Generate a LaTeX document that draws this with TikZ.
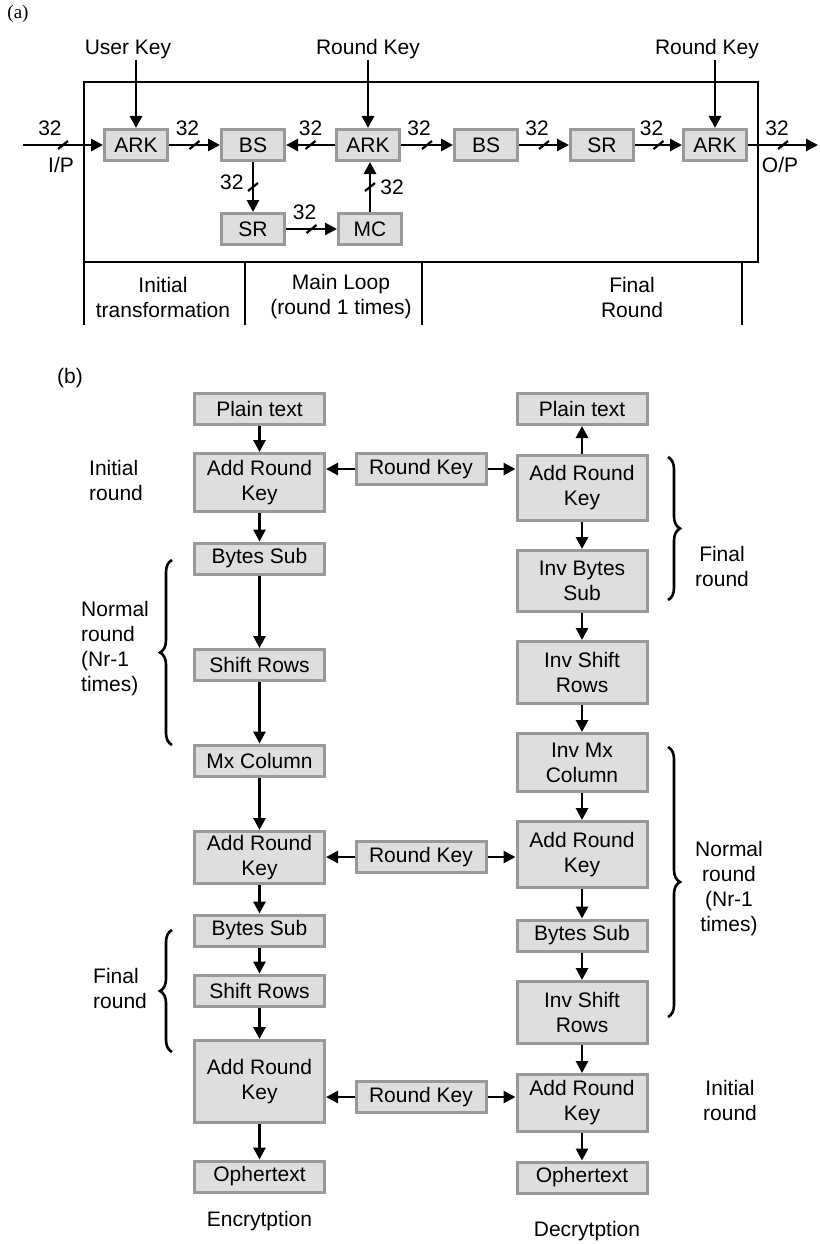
\documentclass[tikz,border=0pt]{standalone}
\usepackage{fontspec}
\setmainfont{Liberation Sans}
\newfontfamily\timesfont{Liberation Serif}
\usetikzlibrary{arrows.meta,positioning,decorations.markings,decorations.pathreplacing}

\begin{document}
\begin{tikzpicture}[x=1pt,y=-1pt]

    \tikzstyle{blk} = [draw=black!40, fill=black!13, line width=3pt,
        align=center, inner sep=2pt, font=\fontsize{21}{25}\selectfont]
    \tikzstyle{sblk} = [blk, minimum width=63pt, minimum height=31pt]
    \tikzstyle{wblk} = [blk, minimum width=130pt, minimum height=31pt]
    \tikzstyle{lbl} = [inner sep=1pt, align=center, font=\fontsize{21}{25}\selectfont]
    \tikzstyle{arr} = [line width=2.8pt, -{Triangle[length=12pt,width=12pt]}]
    \tikzstyle{bus} = [decoration={markings, mark=at position 0.5 with
        {\pgftransformresetnontranslations \draw[-, line width=2.2pt] (-5pt,-4pt) -- (5pt,4pt);}},
        postaction={decorate}]
    \tikzstyle{frm} = [line width=2.8pt]
    \tikzstyle{brc} = [line width=2.6pt, decorate, decoration={brace, amplitude=12pt}]

    \useasboundingbox (0,0) rectangle (819,1244);

    % (a) round structure
    \node [font=\timesfont\fontsize{19}{22}\selectfont] (tagA) at (18,14) {(a)};
    \node [frm, draw, outer sep=0pt, minimum width=674pt, minimum height=180pt] (frame) at (421,172) {};

    \node [sblk] (ark1) at (136,145) {ARK};
    \node [sblk, right of=ark1, node distance=117pt] (bs1) {BS};
    \node [sblk, right of=bs1, node distance=115pt] (ark2) {ARK};
    \node [sblk, below of=bs1, node distance=84pt] (sr1) {SR};
    \node [sblk, right of=sr1, node distance=117pt] (mc) {MC};
    \node [sblk, right of=ark2, node distance=118pt] (bs2) {BS};
    \node [sblk, right of=bs2, node distance=116pt] (sr2) {SR};
    \node [sblk, right of=sr2, node distance=113pt] (ark3) {ARK};

    % keys
    \node [lbl] (ukey) at (128,49) {User Key};
    \node [lbl] (rkey1) at (368,49) {Round Key};
    \node [lbl] (rkey2) at (707,49) {Round Key};
    \draw [arr] (ukey.south -| ark1.north) -- (ark1.north);
    \draw [arr] (rkey1.south -| ark2.north) -- (ark2.north);
    \draw [arr] (rkey2.south -| ark3.north) -- (ark3.north);

    % 32 bit data paths
    \coordinate (inp) at (23,145);
    \coordinate (outp) at (818,145);
    \draw [arr, bus] (inp) -- (ark1.west)
        node [lbl, pos=0.5, above=7pt, xshift=-13pt] {32}
        node [lbl, pos=0.5, below=10pt, xshift=-2pt] {I/P};
    \draw [arr, bus] (ark3.east) -- (outp)
        node [lbl, pos=0.5, above=7pt, xshift=-6pt] {32}
        node [lbl, pos=0.5, below=10pt, xshift=-3pt] {O/P};
    \draw [arr, bus] (ark1) -- (bs1) node [lbl, pos=0.5, above=7pt, xshift=-7pt] {32};
    \draw [arr, bus] (ark2) -- (bs1) node [lbl, pos=0.5, above=7pt] {32};
    \draw [arr, bus] (bs1) -- (sr1) node [lbl, pos=0.5, left=7pt, yshift=5pt] {32};
    \draw [arr, bus] (sr1) -- (mc) node [lbl, pos=0.5, above=7pt, xshift=-7pt] {32};
    \draw [arr, bus] (mc.north) -- (mc.north |- ark2.south) node [lbl, pos=0.5, right=8pt] {32};
    \draw [arr, bus] (ark2) -- (bs2) node [lbl, pos=0.5, above=7pt, xshift=-8pt] {32};
    \draw [arr, bus] (bs2) -- (sr2) node [lbl, pos=0.5, above=7pt, xshift=-7pt] {32};
    \draw [arr, bus] (sr2) -- (ark3) node [lbl, pos=0.5, above=7pt, xshift=-7pt] {32};

    % stage dividers
    \draw [frm] (frame.south west) -- ++(0,63);
    \coordinate (d1) at (245,325);
    \coordinate (d2) at (422,325);
    \coordinate (d3) at (742,325);
    \foreach \d in {d1,d2,d3}
        \draw [frm] (\d) -- (\d |- frame.south);
    \node [lbl] (sec1) at (163,297) {Initial\\transformation};
    \node [lbl] (sec2) at (341,297) {Main Loop\\(round 1 times)};
    \node [lbl] (sec3) at (632,297) {Final\\Round};

    % (b) encryption and decryption
    \node [lbl] (tagB) at (70,378) {(b)};

    % Encryption
    \node [wblk] (eplain) at (259.5,409) {Plain text};
    \node [wblk, below of=eplain, node distance=73.5pt, minimum height=58pt] (eark1) {Add Round\\Key};
    \node [wblk, below of=eark1, node distance=76pt] (ebs1) {Bytes Sub};
    \node [wblk, below of=ebs1, node distance=106.5pt] (esr1) {Shift Rows};
    \node [wblk, below of=esr1, node distance=95.5pt] (emx) {Mx Column};
    \node [wblk, below of=emx, node distance=97pt, minimum height=52pt] (eark2) {Add Round\\Key};
    \node [wblk, below of=eark2, node distance=73pt] (ebs2) {Bytes Sub};
    \node [wblk, below of=ebs2, node distance=60pt] (esr2) {Shift Rows};
    \node [wblk, below of=esr2, node distance=91pt, minimum height=82pt] (eark3) {Add Round\\Key};
    \node [wblk, below of=eark3, node distance=95pt] (ecipher) {Ophertext};
    \node [lbl, below of=ecipher, node distance=44.5pt] (enc) {Encrytption};

    % Decryption
    \node [wblk] (dplain) at (582,409) {Plain text};
    \node [wblk, below of=dplain, node distance=78.5pt, minimum height=65pt] (dark1) {Add Round\\Key};
    \node [wblk, below of=dark1, node distance=93.5pt, minimum height=61pt] (dbs1) {Inv Bytes\\Sub};
    \node [wblk, below of=dbs1, node distance=91.5pt, minimum height=62pt] (dsr1) {Inv Shift\\Rows};
    \node [wblk, below of=dsr1, node distance=90pt, minimum height=58pt] (dmx) {Inv Mx\\Column};
    \node [wblk, below of=dmx, node distance=92pt, minimum height=66pt] (dark2) {Add Round\\Key};
    \node [wblk, below of=dark2, node distance=81pt] (dbs2) {Bytes Sub};
    \node [wblk, below of=dbs2, node distance=77pt, minimum height=62pt] (dsr2) {Inv Shift\\Rows};
    \node [wblk, below of=dsr2, node distance=90.5pt, minimum height=57pt] (dark3) {Add Round\\Key};
    \node [wblk, below of=dark3, node distance=74.5pt] (dcipher) {Ophertext};
    \node [lbl, below of=dcipher, node distance=53.5pt, xshift=5pt] (dec) {Decrytption};

    % Round keys
    \node [wblk] (rk1) at (421,469) {Round Key};
    \node [wblk] (rk2) at (421,857) {Round Key};
    \node [wblk] (rk3) at (421,1097) {Round Key};

    \foreach \a/\b in {eplain/eark1, eark1/ebs1, ebs1/esr1, esr1/emx, emx/eark2,
                       eark2/ebs2, ebs2/esr2, esr2/eark3, eark3/ecipher}
        \draw [arr] (\a) -- (\b);
    \foreach \a/\b in {dark1/dplain, dark1/dbs1, dbs1/dsr1, dsr1/dmx, dmx/dark2,
                       dark2/dbs2, dbs2/dsr2, dsr2/dark3, dark3/dcipher}
        \draw [arr] (\a) -- (\b);
    \foreach \k/\e/\d in {rk1/eark1/dark1, rk2/eark2/dark2, rk3/eark3/dark3} {
        \draw [arr] (\k.west) -- (\k.west -| \e.east);
        \draw [arr] (\k.east) -- (\k.east -| \d.west);
    }

    % round braces
    \draw [brc] (172,745) -- (172,560);
    \draw [brc] (172,1052) -- (172,930);
    \draw [brc] (668,457) -- (668,600);
    \draw [brc] (668,747) -- (668,1017);

    \node [lbl, align=left, anchor=west] (einit) at (88,480) {Initial\\round};
    \node [lbl, align=left, anchor=west] (enorm) at (80,649) {Normal\\round\\(Nr-1\\times)};
    \node [lbl, align=left, anchor=west] (efin) at (92,988) {Final\\round};
    \node [lbl] (dfin) at (722,566) {Final\\round};
    \node [lbl] (dnorm) at (729,889) {Normal\\round\\(Nr-1\\times)};
    \node [lbl] (dinit) at (730,1100) {Initial\\round};

\end{tikzpicture}
\end{document}
